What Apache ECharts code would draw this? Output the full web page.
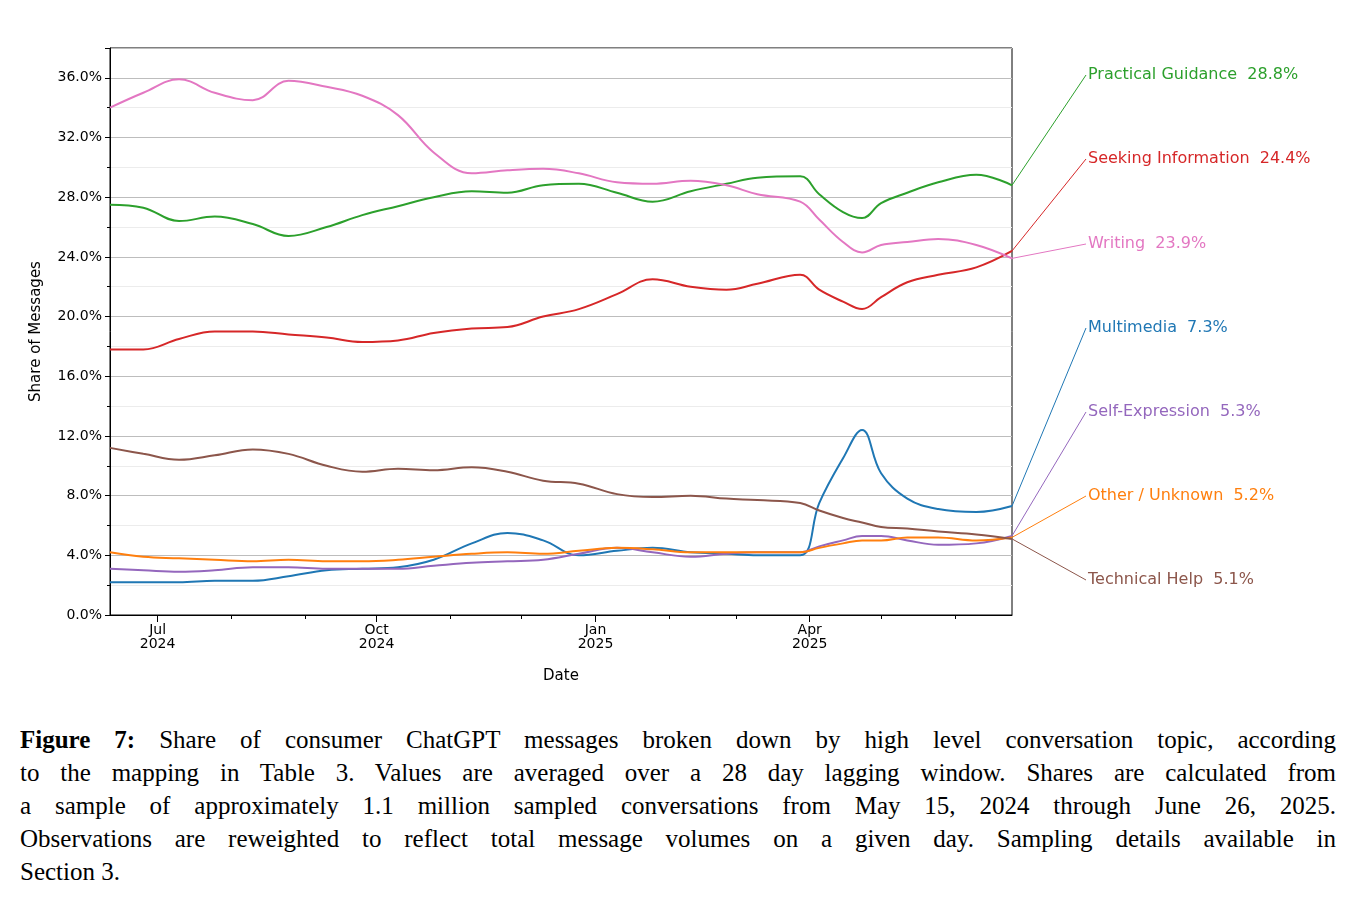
<!DOCTYPE html>
<html lang="en">
<head>
<meta charset="UTF-8">
<title>Figure 7</title>
<script src="https://cdn.jsdelivr.net/npm/echarts@6/dist/echarts.min.js"></script>
<style>
  body { margin: 0; background: #fff; }
  #chart { position: absolute; left: 0; top: 0; width: 1360px; height: 700px; }
  #caption { position: absolute; left: 20px; top: 723px; width: 1316px; font-family: "Liberation Serif", "DejaVu Serif", serif;
             font-size: 25px; line-height: 33px; color: #000; }
  #caption div { text-align: justify; text-align-last: justify; white-space: nowrap; }
  #caption div.last { text-align-last: left; }
</style>
</head>
<body>
<div id="chart"></div>
<div id="caption">
  <div><b>Figure 7:</b> Share of consumer ChatGPT messages broken down by high level conversation topic, according</div>
  <div>to the mapping in Table 3. Values are averaged over a 28 day lagging window. Shares are calculated from</div>
  <div>a sample of approximately 1.1 million sampled conversations from May 15, 2024 through June 26, 2025.</div>
  <div>Observations are reweighted to reflect total message volumes on a given day. Sampling details available in</div>
  <div class="last">Section 3.</div>
</div>
<script>
const dates = ['2024-06-11','2024-06-25','2024-07-10','2024-07-25','2024-08-10','2024-08-25','2024-09-10','2024-09-25',
  '2024-10-10','2024-10-25','2024-11-10','2024-11-25','2024-12-10','2024-12-25','2025-01-10','2025-01-25','2025-02-10',
  '2025-02-25','2025-03-10','2025-03-28','2025-04-05','2025-04-15','2025-04-23','2025-05-01','2025-05-12','2025-05-25',
  '2025-06-10','2025-06-25'];
const practical = [27.5,27.3,26.4,26.7,26.2,25.4,26.0,26.8,27.4,28.0,28.4,28.3,28.8,28.9,28.3,27.7,28.4,28.9,29.3,29.4,28.2,27.0,26.6,27.6,28.3,29.0,29.5,28.8];
const seeking = [17.8,17.8,18.5,19.0,19.0,18.8,18.6,18.3,18.4,18.9,19.2,19.3,20.0,20.5,21.5,22.5,22.0,21.8,22.2,22.8,21.8,21.0,20.5,21.3,22.3,22.8,23.3,24.4];
const writing = [34.0,35.0,35.9,35.0,34.5,35.8,35.4,34.8,33.5,31.0,29.6,29.8,29.9,29.6,29.0,28.9,29.1,28.8,28.2,27.7,26.5,25.0,24.3,24.8,25.0,25.2,24.8,23.9];
const multimedia = [2.2,2.2,2.2,2.3,2.3,2.6,3.0,3.1,3.2,3.7,4.8,5.5,5.0,4.0,4.3,4.5,4.2,4.1,4.0,4.0,7.5,10.5,12.4,9.5,7.8,7.1,6.9,7.3];
const selfExpr = [3.1,3.0,2.9,3.0,3.2,3.2,3.1,3.1,3.1,3.3,3.5,3.6,3.7,4.1,4.5,4.2,3.9,4.1,4.2,4.2,4.6,5.0,5.3,5.3,5.0,4.7,4.8,5.3];
const other = [4.2,3.9,3.8,3.7,3.6,3.7,3.6,3.6,3.7,3.9,4.1,4.2,4.1,4.3,4.5,4.4,4.2,4.2,4.2,4.2,4.5,4.8,5.0,5.0,5.2,5.2,5.0,5.2];
const technical = [11.2,10.8,10.4,10.7,11.1,10.8,10.0,9.6,9.8,9.7,9.9,9.6,9.0,8.8,8.1,7.9,8.0,7.8,7.7,7.5,7.0,6.5,6.2,5.9,5.8,5.6,5.4,5.1];
const months = ['2024-07-01','2024-08-01','2024-09-01','2024-10-01','2024-11-01','2024-12-01','2025-01-01','2025-02-01',
  '2025-03-01','2025-04-01','2025-05-01','2025-06-01'];
const quarters = ['2024-07-01','2024-10-01','2025-01-01','2025-04-01'];
const monthNames = ['Jan','Feb','Mar','Apr','May','Jun','Jul','Aug','Sep','Oct','Nov','Dec'];

const topics = [
  { name: 'Practical Guidance', data: practical, color: '#2ca02c', labelY: 75 },
  { name: 'Seeking Information', data: seeking, color: '#d62728', labelY: 159 },
  { name: 'Writing', data: writing, color: '#e377c2', labelY: 244 },
  { name: 'Multimedia', data: multimedia, color: '#1f77b4', labelY: 328 },
  { name: 'Self-Expression', data: selfExpr, color: '#9467bd', labelY: 412 },
  { name: 'Other / Unknown', data: other, color: '#ff7f0e', labelY: 496 },
  { name: 'Technical Help', data: technical, color: '#8c564b', labelY: 580 }
];
const ts = s => new Date(s + 'T00:00:00Z').getTime();
const font = 'DejaVu Sans';
const xMin = ts('2024-06-11'), xMax = ts('2025-06-25');

let chart = echarts.init(document.getElementById('chart'));
let option = {
  animation: false,
  grid: { left: 110, top: 48, width: 902, height: 567, show: true, borderColor: '#000', borderWidth: 1 },
  xAxis: [
    { type: 'value', min: xMin, max: xMax,
      axisLine: { lineStyle: { color: '#000' } }, splitLine: { show: false },
      axisTick: { customValues: months.map(ts), length: 4, lineStyle: { color: '#000' } },
      axisLabel: { show: false },
      name: 'Date', nameLocation: 'middle', nameGap: 54, nameTextStyle: { fontFamily: font, fontSize: 15, color: '#000' } },
    { type: 'value', min: xMin, max: xMax, position: 'bottom',
      axisLine: { show: false }, splitLine: { show: false },
      axisTick: { customValues: quarters.map(ts), length: 7, lineStyle: { color: '#000' } },
      axisLabel: { customValues: quarters.map(ts), fontFamily: font, fontSize: 14, color: '#000', lineHeight: 14,
        formatter: v => { const d = new Date(v); return monthNames[d.getUTCMonth()] + '\n' + d.getUTCFullYear(); } } }
  ],
  yAxis: { type: 'value', min: 0, max: 38, interval: 4,
    axisLine: { show: true, lineStyle: { color: '#000' } },
    axisTick: { show: true, length: 5, lineStyle: { color: '#000' } },
    minorTick: { show: true, splitNumber: 2, length: 3, lineStyle: { color: '#000' } },
    splitLine: { lineStyle: { color: '#bdbdbd' } },
    minorSplitLine: { show: true, lineStyle: { color: '#ececec' } },
    axisLabel: { fontFamily: font, fontSize: 14, color: '#000', formatter: v => v > 37 ? '' : v.toFixed(1) + '%' },
    name: 'Share of Messages', nameLocation: 'middle', nameGap: 66,
    nameTextStyle: { fontFamily: font, fontSize: 15, color: '#000' } },
  series: topics.map(t => ({
    name: t.name, type: 'line', smooth: 0.4, showSymbol: false,
    lineStyle: { color: t.color, width: 2 }, itemStyle: { color: t.color },
    data: dates.map((d, i) => [ts(d), t.data[i]])
  }))
};
chart.setOption(option);

let graphics = [];
topics.forEach(t => {
  const last = t.data.length - 1;
  const p = chart.convertToPixel({ gridIndex: 0 }, [ts(dates[last]), t.data[last]]);
  graphics.push({ type: 'line', shape: { x1: p[0], y1: p[1], x2: 1086, y2: t.labelY }, style: { stroke: t.color, lineWidth: 1 } });
  graphics.push({ type: 'text', x: 1088, y: t.labelY, style: { text: t.name + '  ' + t.data[last].toFixed(1) + '%',
    fill: t.color, font: '16px "' + font + '"', verticalAlign: 'middle' } });
});
chart.setOption({ graphic: graphics });
</script>
</body>
</html>
